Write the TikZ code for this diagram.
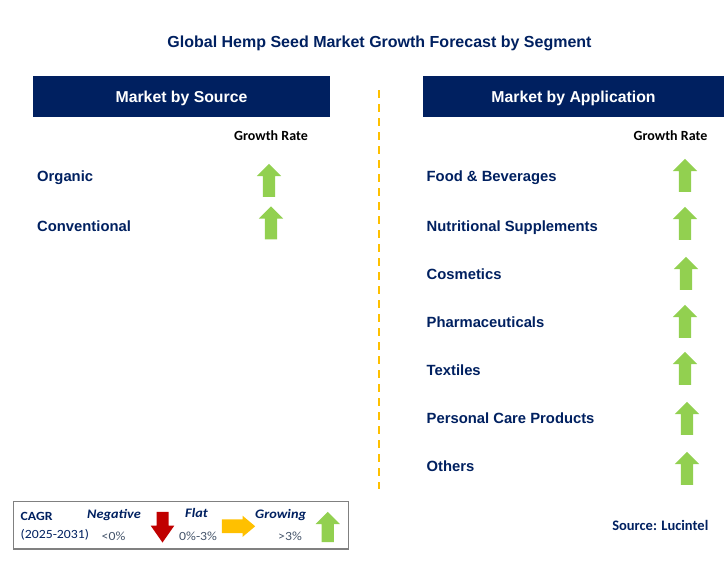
\documentclass[tikz,border=0pt]{standalone}
\usepackage{fontspec}
\setmainfont{Liberation Sans}
\newfontfamily\calibri{Carlito}
\newfontfamily\legendfont[FakeStretch=1.1]{Carlito}
\usetikzlibrary{shapes.arrows}

\definecolor{navy}{HTML}{002060}
\definecolor{growgreen}{HTML}{92D050}
\definecolor{fallred}{HTML}{C00000}
\definecolor{flatyellow}{HTML}{FFC000}
\definecolor{slate}{HTML}{44546A}

\tikzstyle{header}=[fill=navy,text=white,font=\bfseries\fontsize{15.8}{18}\selectfont,minimum width=297pt,minimum height=41pt,inner sep=0pt,text depth=0pt]
\tikzstyle{segment}=[anchor=base west,inner sep=0pt,text=navy,font=\bfseries\fontsize{14.8}{17}\selectfont]
\tikzstyle{rate}=[anchor=base,inner sep=0pt,font=\calibri\bfseries\fontsize{14}{17}\selectfont]
\tikzstyle{uparrow}=[single arrow,draw=none,fill=growgreen,rotate=90,anchor=tail,inner sep=0pt,inner ysep=6pt,single arrow head extend=6pt,minimum height=33pt]
\tikzstyle{legtext}=[anchor=base west,inner sep=0pt,text=navy,font=\legendfont\fontsize{12.5}{15}\selectfont]
\tikzstyle{legkey}=[legtext,font=\legendfont\bfseries\itshape\fontsize{13}{15}\selectfont]

\begin{document}
\begin{tikzpicture}[x=1pt,y=-1pt]
	\useasboundingbox (0,0) rectangle (728,562);
	
	\node[anchor=base,inner sep=0pt,text=navy,font=\bfseries\fontsize{16}{18}\selectfont] (title) at (379.5,47) {Global Hemp Seed Market Growth Forecast by Segment};
	
	\node[header] (srcHead) at (181.5,96.5) {Market by Source};
	\node[header,minimum width=301pt] (appHead) at (573.5,96.5) {Market by Application};
	\node[rate] (srcRate) at (271,140) {Growth Rate};
	\node[rate] (appRate) at (670.5,140) {Growth Rate};
	
	\coordinate (sepTop) at (379,90);
	\coordinate (sepBot) at (379,489);
	\draw[flatyellow,line width=2.5pt,dash pattern=on 8pt off 6pt] (sepTop) -- (sepBot);
	
	% source
	\node[segment] (organic) at (37,181) {Organic};
	\node[segment] (conventional) at (37,231) {Conventional};
	\node[uparrow] (organicUp) at (269,197) {};
	\node[uparrow] (conventionalUp) at (271,239.5) {};
	
	% application
	\node[segment] (food) at (426.5,181) {Food \& Beverages};
	\node[segment] (nutrition) at (426.5,231) {Nutritional Supplements};
	\node[segment] (cosmetics) at (426.5,279) {Cosmetics};
	\node[segment] (pharma) at (426.5,327) {Pharmaceuticals};
	\node[segment] (textiles) at (426.5,375) {Textiles};
	\node[segment] (personal) at (426.5,423) {Personal Care Products};
	\node[segment] (others) at (426.5,471) {Others};
	\node[uparrow] (foodUp) at (685,192) {};
	\node[uparrow] (nutritionUp) at (685,240) {};
	\node[uparrow] (cosmeticsUp) at (686,290) {};
	\node[uparrow] (pharmaUp) at (685,338) {};
	\node[uparrow] (textilesUp) at (685,385) {};
	\node[uparrow] (personalUp) at (687,435) {};
	\node[uparrow] (othersUp) at (687,485) {};
	
	% legend
	\node[draw=black!50,line width=1.2pt,minimum width=335pt,minimum height=47.3pt,inner sep=0pt] (legend) at (180.8,525.3) {};
	\node[legtext,font=\legendfont\bfseries\fontsize{12.5}{15}\selectfont] (cagr) at (20.5,520) {CAGR};
	\node[legtext] (period) at (20.5,538) {(2025-2031)};
	\node[legkey] (negative) at (87,518.3) {Negative};
	\node[legtext,text=slate] (negativeVal) at (101.5,540) {<0\%};
	\node[single arrow,draw=none,fill=fallred,rotate=-90,anchor=tail,inner sep=0pt,inner ysep=5.8pt,single arrow head extend=5.9pt,single arrow tip angle=70,minimum height=30.6pt] (fallDown) at (162.5,511.7) {};
	\node[legkey] (flat) at (185,517.7) {Flat};
	\node[legtext,text=slate] (flatVal) at (179,540) {0\%-3\%};
	\node[single arrow,draw=none,fill=flatyellow,anchor=tail,inner sep=0pt,inner ysep=6.7pt,single arrow head extend=3.7pt,single arrow tip angle=80,minimum height=33.3pt] (flatRight) at (221.7,526.3) {};
	\node[legkey] (growing) at (255,518) {Growing};
	\node[legtext,text=slate] (growingVal) at (278,540) {>3\%};
	\node[uparrow,minimum height=30.3pt] (growingUp) at (327.7,542.3) {};
	
	\node[anchor=base east,inner sep=0pt,text=navy,font=\calibri\bfseries\fontsize{14.5}{17}\selectfont] (source) at (708.5,530.7) {Source: Lucintel};
\end{tikzpicture}
\end{document}
